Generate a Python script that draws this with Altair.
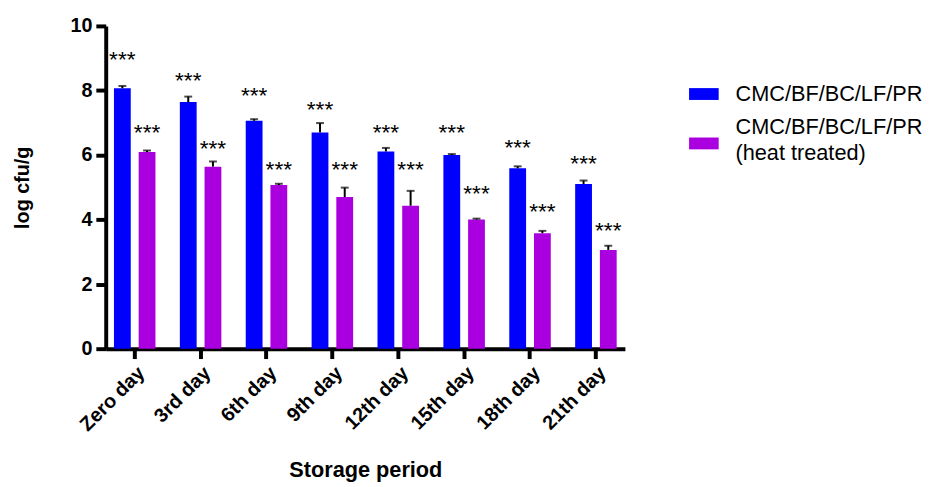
import altair as alt
import pandas as pd

days = ["Zero day", "3rd day", "6th day", "9th day", "12th day", "15th day", "18th day", "21th day"]
series = ["CMC/BF/BC/LF/PR", "CMC/BF/BC/LF/PR (heat treated)"]
colors = ["#0000FF", "#AA00E0"]
# legend swatches: a wide rectangle; the second is dropped to sit beside its two-line label
swatches = ["M-1,-0.4H1V0.4H-1Z", "M-1,0.67H1V1.47H-1Z"]

raw_mean = [8.07, 7.64, 7.06, 6.70, 6.11, 6.00, 5.59, 5.10]
raw_err = [0.07, 0.17, 0.05, 0.29, 0.11, 0.03, 0.06, 0.11]
raw_star = [9.12, 8.48, 8.00, 7.59, 6.85, 6.85, 6.39, 5.91]

heat_mean = [6.09, 5.64, 5.07, 4.70, 4.43, 4.00, 3.58, 3.06]
heat_err = [0.05, 0.16, 0.04, 0.29, 0.46, 0.03, 0.07, 0.13]
heat_star = [6.85, 6.38, 5.71, 5.71, 5.71, 4.96, 4.43, 3.84]

rows = []
for s, means, errs, stars in [(series[0], raw_mean, raw_err, raw_star),
                              (series[1], heat_mean, heat_err, heat_star)]:
    for d, m, e, st in zip(days, means, errs, stars):
        rows.append({"day": d, "series": s, "mean": m, "top": m + e, "star": st, "sig": "***"})
df = pd.DataFrame(rows)

FONT = "Liberation Sans"

x_enc = alt.X(
    "day:N", sort=days, title="Storage period",
    scale=alt.Scale(paddingInner=0.37, paddingOuter=0.125),
    axis=alt.Axis(labelAngle=-45, labelFontSize=20, labelFontWeight="bold", labelFont=FONT,
                  titleFontSize=22, titleFontWeight="bold", titleFont=FONT, titlePadding=25,
                  domainWidth=4, domainColor="black", tickWidth=4, tickColor="black",
                  tickSize=10, labelPadding=4, labelColor="black", titleColor="black"),
)
xoff = alt.XOffset("series:N", sort=series, scale=alt.Scale(paddingInner=0.32, paddingOuter=0))

base = alt.Chart(df).encode(x=x_enc, xOffset=xoff)

y_axis = alt.Axis(values=[0, 2, 4, 6, 8, 10], labelFontSize=20, labelFontWeight="bold",
                  labelFont=FONT, titleFontSize=20, titleFontWeight="bold", titleFont=FONT,
                  titlePadding=38, domainWidth=4, domainColor="black", tickWidth=4,
                  tickColor="black", tickSize=10, labelPadding=4, grid=False,
                  labelColor="black", titleColor="black")

legend = alt.Legend(orient="none", legendX=591, legendY=54, title=None,
                    labelFontSize=22, labelFont=FONT, labelLimit=400,
                    symbolSize=900, symbolStrokeWidth=0, symbolOpacity=1, labelOffset=17,
                    rowPadding=8, labelColor="black",
                    labelExpr="indexof(datum.label, ' (') > 0 ? [substring(datum.label, 0, indexof(datum.label, ' (')), substring(datum.label, indexof(datum.label, ' (') + 1)] : datum.label")

color_scale = alt.Scale(domain=series, range=colors)

bars = base.mark_bar().encode(
    y=alt.Y("mean:Q", title="log cfu/g", scale=alt.Scale(domain=[0, 10], nice=False), axis=y_axis),
    color=alt.Color("series:N", scale=color_scale, legend=legend),
)

legend_keys = base.mark_point(filled=True, opacity=0).encode(
    y="mean:Q",
    color=alt.Color("series:N", scale=color_scale, legend=legend),
    shape=alt.Shape("series:N", scale=alt.Scale(domain=series, range=swatches), legend=legend),
)

rules = base.mark_rule(color="black", strokeWidth=2).encode(y="mean:Q", y2="top:Q")
caps = base.mark_tick(color="black", thickness=2, size=8).encode(y="top:Q")
stars = base.mark_text(fontSize=23, baseline="alphabetic", dy=13, color="black", font=FONT).encode(
    y="star:Q", text="sig:N")

chart = alt.layer(bars, legend_keys, rules, caps, stars).properties(
    width=526, height=327,
    padding={"left": 4, "top": 5, "right": 0, "bottom": 5},
).configure(style={"guide-label": {"lineHeight": 26}}).configure_view(stroke=None)

chart.save("out.html", embed_options={"renderer": "svg", "actions": False})
